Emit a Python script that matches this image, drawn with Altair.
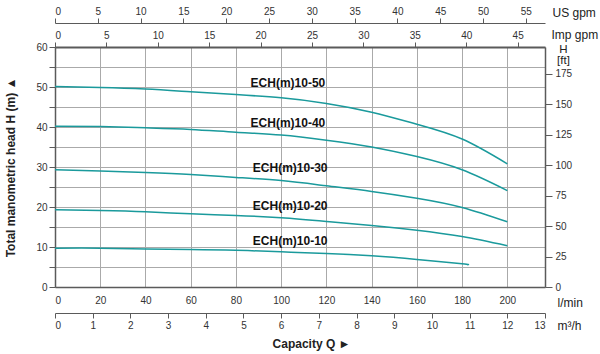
import altair as alt
import pandas as pd

# ---- data ----
flow_lmin = [0, 20, 40, 60, 80, 100, 120, 140, 160, 180, 200]
flow_lmin_10 = [0, 20, 40, 60, 80, 100, 120, 140, 160, 180, 182]
models = ["ECH(m)10-50", "ECH(m)10-40", "ECH(m)10-30", "ECH(m)10-20", "ECH(m)10-10"]
head_50 = [50.1, 49.9, 49.5, 48.8, 48.1, 47.3, 45.9, 43.7, 40.7, 37.0, 30.8]
head_40 = [40.2, 40.1, 39.8, 39.4, 38.7, 38.0, 36.7, 35.0, 32.6, 29.3, 24.1]
head_30 = [29.3, 29.0, 28.6, 28.1, 27.4, 26.6, 25.3, 23.9, 22.2, 19.9, 16.3]
head_20 = [19.3, 19.1, 18.8, 18.3, 17.9, 17.3, 16.4, 15.4, 14.2, 12.6, 10.3]
head_10 = [9.7, 9.7, 9.5, 9.4, 9.2, 8.8, 8.4, 7.8, 6.9, 5.8, 5.6]
label_q = [103, 103, 104, 104, 104]
label_h = [51.0, 41.0, 29.8, 20.3, 11.5]

lmin_ticks = list(range(0, 201, 20))
m3h_ticks = list(range(0, 14))
usgpm_ticks = list(range(0, 56, 5))
impgpm_ticks = list(range(0, 46, 5))
head_ticks = list(range(0, 61, 5))
ft_ticks = list(range(0, 176, 25))

Q_MAX = 13 * 1000 / 60.0
H_MAX = 60.0

rows = []
series = [head_50, head_40, head_30, head_20, head_10]
flows = [flow_lmin] * 4 + [flow_lmin_10]
for m, fl, hs in zip(models, flows, series):
    for q, h in zip(fl, hs):
        rows.append({"model": m, "Q": q, "H": h})
df = pd.DataFrame(rows)
df["m3h"] = df["Q"] * 0.06
df["usgpm"] = df["Q"] / 3.78541
df["impgpm"] = df["Q"] / 4.54609
df["ft"] = df["H"] * 3.28084

labels = pd.DataFrame({"model": models, "Q": label_q, "H": label_h})

xs = alt.Scale(domain=[0, Q_MAX], nice=False, zero=True)
ys = alt.Scale(domain=[0, H_MAX], nice=False, zero=True)
x_hidden = alt.X("Q:Q", scale=xs, axis=None)
y_hidden = alt.Y("H:Q", scale=ys, axis=None)

DOM = "#5a5a5a"

lines = alt.Chart(df).mark_line(interpolate="natural", color="#1a9a9c", strokeWidth=1.5).encode(
    x=alt.X("Q:Q", scale=xs, axis=alt.Axis(
        orient="bottom", values=lmin_ticks, ticks=False, labelPadding=8,
        grid=True, title="l/min", titleX=502, titleY=15, titleAlign="left",
        titleBaseline="middle", domainWidth=1.5)),
    y=alt.Y("H:Q", scale=ys, axis=alt.Axis(
        orient="left", values=head_ticks,
        labelExpr="datum.value % 10 == 0 ? datum.label : ''",
        tickSize=6, labelPadding=2, grid=True,
        title="Total manometric head H (m) ▲", titleFontWeight="bold",
        titleX=-45, titleY=120, titleAlign="center", titleBaseline="middle",
        domainWidth=1.5)),
    detail="model:N",
)

text = alt.Chart(labels).mark_text(fontWeight="bold", fontSize=12, color="#111").encode(
    x=alt.X("Q:Q", scale=xs, axis=alt.Axis(
        orient="bottom", labels=False, ticks=False, domain=False, grid=False,
        title="Capacity Q ►", titleFontWeight="bold", titleX=256, titleY=56,
        titleAlign="center", titleBaseline="middle")),
    y=y_hidden,
    text="model:N",
)

m3h_layer = alt.Chart(df).mark_point(opacity=0).encode(
    x=alt.X("m3h:Q", scale=alt.Scale(domain=[0, 13], nice=False), axis=alt.Axis(
        orient="bottom", offset=26, values=m3h_ticks, tickSize=5, labelPadding=2,
        grid=False, title="m³/h", titleX=502, titleY=12, titleAlign="left",
        titleBaseline="middle")),
    y=y_hidden,
)

us_layer = alt.Chart(df).mark_point(opacity=0).encode(
    x=alt.X("usgpm:Q", scale=alt.Scale(domain=[0, Q_MAX / 3.78541], nice=False), axis=alt.Axis(
        orient="top", offset=24, values=usgpm_ticks, tickSize=5, labelPadding=2,
        grid=False, title="US gpm", titleX=497, titleY=-11, titleAlign="left",
        titleBaseline="middle")),
    y=y_hidden,
)

imp_layer = alt.Chart(df).mark_point(opacity=0).encode(
    x=alt.X("impgpm:Q", scale=alt.Scale(domain=[0, Q_MAX / 4.54609], nice=False), axis=alt.Axis(
        orient="top", offset=0, values=impgpm_ticks, tickSize=5, labelPadding=2,
        grid=False, title="Imp gpm", titleX=496, titleY=-13, titleAlign="left",
        titleBaseline="middle", domainWidth=1.8)),
    y=y_hidden,
)

ft_layer = alt.Chart(df).mark_point(opacity=0).encode(
    x=x_hidden,
    y=alt.Y("ft:Q", scale=alt.Scale(domain=[0, H_MAX * 3.28084], nice=False), axis=alt.Axis(
        orient="right", values=ft_ticks, tickSize=7, labelPadding=3, grid=False,
        title=["H", "[ft]"], titleAngle=0, titleX=18, titleY=2, titleAlign="center",
        titleBaseline="middle", titleLineHeight=11, titleFontSize=11.5, domainWidth=1.5)),
)

chart = alt.layer(lines, text, m3h_layer, us_layer, imp_layer, ft_layer).resolve_scale(
    x="independent", y="independent"
).properties(
    width=490, height=240,
    autosize=alt.AutoSizeParams(type="none"),
    padding={"left": 55, "top": 47, "right": 55, "bottom": 67},
).configure(
    font="Liberation Sans",
).configure_view(
    stroke=None,
).configure_axis(
    labelFontSize=10, labelColor="#333", titleFontSize=12, titleFontWeight="normal",
    titleColor="#222", domainColor=DOM, tickColor=DOM, gridColor="#aaaaaa",
    gridWidth=1, labelFont="Liberation Sans", titleFont="Liberation Sans",
)

chart.save("out.html", embed_options={"renderer": "svg", "actions": False})
